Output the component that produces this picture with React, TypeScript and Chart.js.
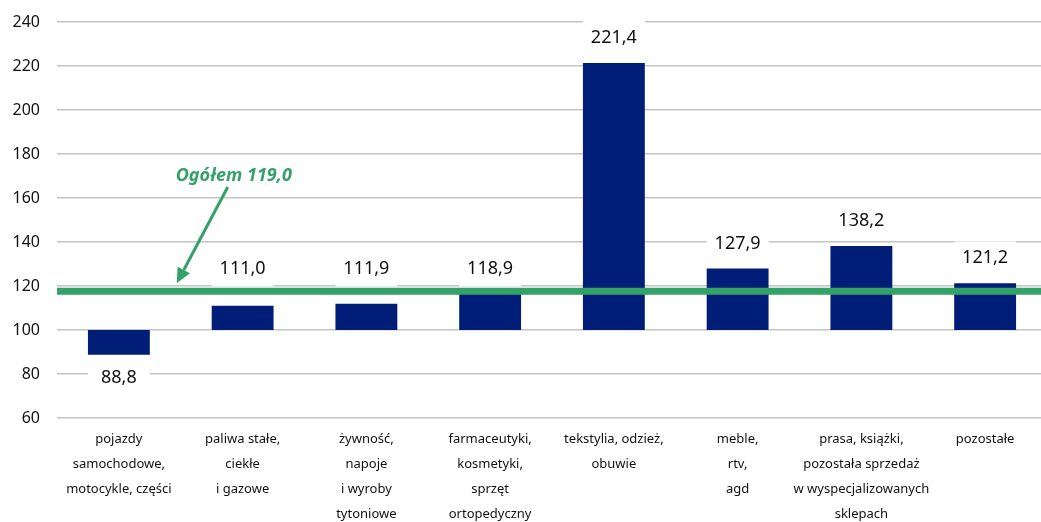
import React, { useEffect, useRef } from "react";
import { Chart, registerables } from "chart.js";

Chart.register(...registerables);

const categories: string[][] = [
  ["pojazdy", "samochodowe,", "motocykle, części"],
  ["paliwa stałe,", "ciekłe", "i gazowe"],
  ["żywność,", "napoje", "i wyroby", "tytoniowe"],
  ["farmaceutyki,", "kosmetyki,", "sprzęt", "ortopedyczny"],
  ["tekstylia, odzież,", "obuwie"],
  ["meble,", "rtv,", "agd"],
  ["prasa, książki,", "pozostała sprzedaż", "w wyspecjalizowanych", "sklepach"],
  ["pozostałe"],
];
const values: number[] = [88.8, 111.0, 111.9, 118.9, 221.4, 127.9, 138.2, 121.2];
const baseValue = 100;
const overallValue = 119.0;
const overallLineLevel = 117.6;
const overallLabel = "Ogółem 119,0";
const yMin = 60;
const yMax = 240;
const yStep = 20;

const BAR_COLOR = "#001e77";
const GREEN = "#34a168";
const FONT = "'Noto Sans', 'Open Sans', sans-serif";

const fmt = (v: number) => v.toFixed(1).replace(".", ",");

const overlayPlugin = {
  id: "overlay",
  afterDatasetsDraw(chart: any) {
    const ctx = chart.ctx;
    const y = chart.scales.y;
    const x = chart.scales.x;
    const area = chart.chartArea;
    const meta = chart.getDatasetMeta(0);
    const lineY = y.getPixelForValue(overallLineLevel);
    ctx.save();
    meta.data.forEach((bar: any, i: number) => {
      const v = values[i];
      const w = bar.width;
      let cy: number;
      if (v < baseValue) {
        cy = y.getPixelForValue(v) + 23;
      } else if (v < overallValue) {
        cy = lineY + 3 - 25;
      } else {
        cy = y.getPixelForValue(v) - 25;
      }
      ctx.fillStyle = "#ffffff";
      ctx.fillRect(bar.x - w / 2, cy - 17, w, 34);
      ctx.fillStyle = "#111111";
      ctx.font = `18px ${FONT}`;
      ctx.textAlign = "center";
      ctx.textBaseline = "middle";
      ctx.fillText(fmt(v), bar.x, cy);
    });
    ctx.strokeStyle = GREEN;
    ctx.lineWidth = 7;
    ctx.beginPath();
    ctx.moveTo(area.left, lineY);
    ctx.lineTo(chart.width, lineY);
    ctx.stroke();
    const mid = (x.getPixelForValue(0) + x.getPixelForValue(1)) / 2;
    const tipX = mid - 4;
    const tipY = lineY - 8;
    const tailX = mid + 47;
    const tailY = y.getPixelForValue(165);
    const ang = Math.atan2(tipY - tailY, tipX - tailX);
    const hl = 15;
    const hw = 7;
    const bx = tipX - hl * Math.cos(ang);
    const by = tipY - hl * Math.sin(ang);
    ctx.lineWidth = 3;
    ctx.beginPath();
    ctx.moveTo(tailX, tailY);
    ctx.lineTo(bx, by);
    ctx.stroke();
    ctx.fillStyle = GREEN;
    ctx.beginPath();
    ctx.moveTo(tipX, tipY);
    ctx.lineTo(bx + hw * Math.sin(ang), by - hw * Math.cos(ang));
    ctx.lineTo(bx - hw * Math.sin(ang), by + hw * Math.cos(ang));
    ctx.closePath();
    ctx.fill();
    ctx.font = `italic bold 18px ${FONT}`;
    ctx.textAlign = "center";
    ctx.textBaseline = "middle";
    ctx.fillText(overallLabel, mid + 53, y.getPixelForValue(170));
    ctx.restore();
  },
};

export default function App() {
  const ref = useRef<HTMLCanvasElement | null>(null);
  useEffect(() => {
    document.body.style.margin = "0";
    document.body.style.overflow = "hidden";
    const chart = new Chart(ref.current!, {
      type: "bar",
      data: {
        labels: categories,
        datasets: [
          {
            data: values.map((v) => [baseValue, v]) as any,
            backgroundColor: BAR_COLOR,
            borderWidth: 0,
            barPercentage: 1,
            categoryPercentage: 0.5,
          },
        ],
      },
      options: {
        animation: false,
        responsive: false,
        layout: { padding: { top: 22, left: 0, right: 0, bottom: 0 } },
        plugins: { legend: { display: false }, tooltip: { enabled: false } },
        scales: {
          x: {
            grid: { display: false, drawTicks: false },
            border: { display: false },
            ticks: {
              color: "#111111",
              font: { family: FONT, size: 13, lineHeight: 25 / 13 },
              padding: 9,
              maxRotation: 0,
              autoSkip: false,
            },
            afterFit(scale: any) {
              scale.height = 104;
            },
          },
          y: {
            min: yMin,
            max: yMax,
            grid: { color: "#c4c4c4", lineWidth: 1.5, drawTicks: false },
            border: { display: false },
            ticks: {
              stepSize: yStep,
              color: "#111111",
              font: { family: FONT, size: 16 },
              padding: 17,
            },
            afterFit(scale: any) {
              scale.width = 57;
              scale.paddingTop = 0;
              scale.paddingBottom = 0;
            },
          },
        },
      },
      plugins: [overlayPlugin],
    });
    return () => chart.destroy();
  }, []);
  return (
    <div style={{ position: "absolute", left: 0, top: 0, width: 1047, height: 522 }}>
      <canvas ref={ref} width={1047} height={522} />
    </div>
  );
}
